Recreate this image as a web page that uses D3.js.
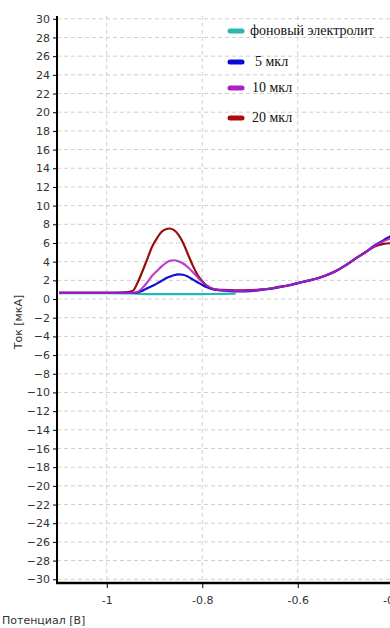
<!DOCTYPE html>
<html>
<head>
<meta charset="utf-8">
<script src="https://cdn.jsdelivr.net/npm/d3@7"></script>
<style>
  html, body { margin: 0; padding: 0; background: #fff; overflow: hidden; }
  .container { width: 390px; height: 628px; }
  text { font-family: "DejaVu Sans", Verdana, sans-serif; }
</style>
</head>
<body>
<div class="container"></div>
<script>
// potential [V] for the three sample curves
var potential = [-1.10, -1.00, -0.96, -0.945, -0.935, -0.925, -0.915, -0.905, -0.895, -0.885, -0.875, -0.868,
	-0.86, -0.85, -0.84, -0.83, -0.82, -0.81, -0.80, -0.79, -0.78, -0.77, -0.76, -0.74, -0.72, -0.70,
	-0.68, -0.66, -0.64, -0.62, -0.60, -0.58, -0.56, -0.54, -0.52, -0.50, -0.48, -0.46, -0.44, -0.42, -0.40, -0.38];

var current20 = [0.65, 0.65, 0.72, 0.9, 1.8, 3.0, 4.3, 5.6, 6.5, 7.2, 7.5, 7.55,
	7.4, 6.9, 6.0, 4.8, 3.6, 2.6, 1.9, 1.35, 1.1, 1.0, 0.98, 0.95, 0.92, 0.95,
	1.0, 1.1, 1.3, 1.45, 1.7, 1.95, 2.2, 2.55, 3.0, 3.6, 4.3, 4.95, 5.6, 5.9, 6.0, 6.1];

var current10 = [0.65, 0.65, 0.65, 0.66, 0.75, 1.2, 1.8, 2.5, 3.0, 3.5, 3.9, 4.1,
	4.15, 4.05, 3.8, 3.4, 2.9, 2.35, 1.85, 1.45, 1.15, 1.0, 0.95, 0.9, 0.88, 0.9,
	1.0, 1.1, 1.28, 1.45, 1.7, 1.95, 2.2, 2.55, 3.0, 3.6, 4.3, 4.95, 5.65, 6.2, 6.6, 7.0];

var current5 = [0.65, 0.65, 0.65, 0.65, 0.7, 0.9, 1.15, 1.4, 1.65, 1.95, 2.25, 2.4,
	2.55, 2.65, 2.6, 2.4, 2.1, 1.8, 1.5, 1.25, 1.08, 0.98, 0.92, 0.85, 0.82, 0.85,
	0.95, 1.08, 1.25, 1.45, 1.7, 1.95, 2.2, 2.55, 3.0, 3.6, 4.3, 4.95, 5.7, 6.3, 6.9, 7.4];

// background electrolyte, measured on a shorter range
var potentialBg = [-1.10, -1.00, -0.95, -0.93, -0.90, -0.85, -0.80, -0.76, -0.73];
var currentBg = [0.62, 0.62, 0.6, 0.55, 0.52, 0.52, 0.53, 0.55, 0.58];

var xTicks = [-1, -0.8, -0.6, -0.4];
var yTicks = d3.range(-30, 31, 2);
var legendLabels = ["фоновый электролит", "5 мкл", "10 мкл", "20 мкл"];

(function() {
	var width = 390, height = 628;
	var left = 57, bottom = 583, top = 16;

	var svg = d3.select(".container").append("svg")
		.attr("width", width)
		.attr("height", height);

	var x = d3.scaleLinear().domain([-1.1, -0.3]).range([left + 2, left + 2 + 0.8 * 477.5]);
	var y = d3.scaleLinear().domain([-30.4, 30.3]).range([bottom, top]);

	// grid
	svg.append("g").selectAll("line.h")
		.data(yTicks).enter().append("line")
		.attr("x1", left).attr("x2", width)
		.attr("y1", function(d) { return y(d); })
		.attr("y2", function(d) { return y(d); })
		.style("stroke", "#cfcfcf")
		.style("stroke-dasharray", "4,3");

	svg.append("g").selectAll("line.v")
		.data(xTicks).enter().append("line")
		.attr("x1", function(d) { return x(d); })
		.attr("x2", function(d) { return x(d); })
		.attr("y1", top).attr("y2", bottom)
		.style("stroke", "#cfcfcf")
		.style("stroke-dasharray", "4,3");

	// curves
	var line = d3.line()
		.x(function(d) { return x(d[0]); })
		.y(function(d) { return y(d[1]); })
		.curve(d3.curveMonotoneX);

	var series = [
		{pts: d3.zip(potentialBg, currentBg), color: "#22b8b4", opacity: 1},
		{pts: d3.zip(potential, current20), color: "#9a0c0c", opacity: 1},
		{pts: d3.zip(potential, current5), color: "#1010d0", opacity: 1},
		{pts: d3.zip(potential, current10), color: "#b020c0", opacity: 0.85}
	];

	svg.append("g").selectAll("path")
		.data(series).enter().append("path")
		.attr("d", function(d) { return line(d.pts); })
		.style("fill", "none")
		.style("stroke", function(d) { return d.color; })
		.style("stroke-opacity", function(d) { return d.opacity; })
		.style("stroke-width", 2.2);

	// axes
	var yAxis = d3.axisLeft(y).tickValues(yTicks).tickSize(4).tickPadding(3).tickFormat(d3.format("d"));
	var yMinor = d3.axisLeft(y).tickValues(d3.range(-30, 30.01, 0.4)).tickSize(2).tickFormat("");
	var xAxis = d3.axisBottom(x).tickValues(xTicks).tickSize(5).tickPadding(8).tickFormat(function(d) { return String(d); });
	var xMinor = d3.axisBottom(x).tickValues(d3.range(-1.08, -0.3, 0.04)).tickSize(3).tickFormat("");

	var gy = svg.append("g").attr("transform", "translate(" + left + ",0)");
	gy.call(yMinor);
	gy.call(yAxis);
	var gx = svg.append("g").attr("transform", "translate(0," + bottom + ")");
	gx.call(xMinor);
	gx.call(xAxis);

	[gx, gy].forEach(function(g) {
		g.selectAll(".domain").remove();
		g.selectAll("line").style("stroke", "#000");
		g.selectAll("text").style("font-size", "11px").style("fill", "#333")
			.style("font-family", "DejaVu Sans, Verdana, sans-serif");
	});

	svg.append("line")
		.attr("x1", left).attr("x2", left)
		.attr("y1", top).attr("y2", bottom + 1)
		.style("stroke", "#000").style("stroke-width", 2);
	svg.append("line")
		.attr("x1", left - 1).attr("x2", width)
		.attr("y1", bottom).attr("y2", bottom)
		.style("stroke", "#000").style("stroke-width", 2.5);

	// axis titles
	svg.append("text")
		.attr("transform", "translate(22,322) rotate(-90)")
		.attr("text-anchor", "middle")
		.style("font-size", "11px").style("fill", "#333")
		.text("Ток [мкА]");
	svg.append("text")
		.attr("x", 2).attr("y", 624)
		.style("font-size", "11px").style("fill", "#333")
		.text("Потенциал [В]");

	// legend
	var legendColors = ["#2ab7b0", "#0a0ad8", "#b020c0", "#b00a0a"];
	var legendY = [31, 62, 88, 118];
	var legendX = [250, 255, 252, 252];
	var lg = svg.append("g").selectAll("g")
		.data(legendLabels).enter().append("g");
	lg.append("line")
		.attr("x1", 230).attr("x2", 242)
		.attr("y1", function(d, i) { return legendY[i]; })
		.attr("y2", function(d, i) { return legendY[i]; })
		.style("stroke", function(d, i) { return legendColors[i]; })
		.style("stroke-width", 5)
		.style("stroke-linecap", "round");
	lg.append("text")
		.attr("x", function(d, i) { return legendX[i]; })
		.attr("y", function(d, i) { return legendY[i] + 4; })
		.style("font-family", "Liberation Serif, Times New Roman, serif")
		.style("font-size", "14px")
		.style("fill", "#111")
		.text(function(d) { return d; });
})();
</script>
</body>
</html>
